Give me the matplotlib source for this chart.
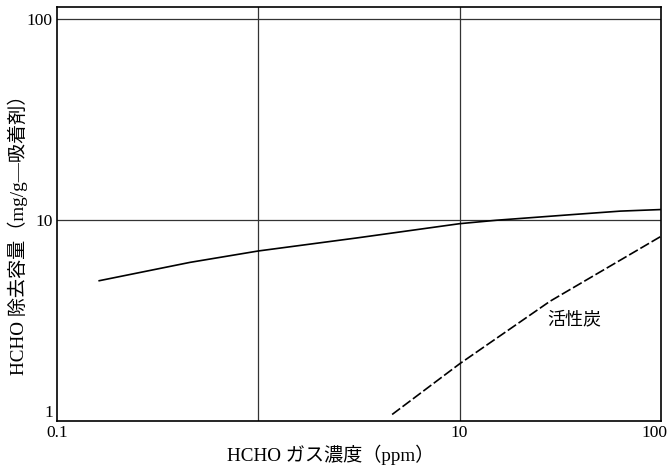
import matplotlib
matplotlib.use('Agg')
import matplotlib.pyplot as plt
import matplotlib.transforms as mtransforms

plt.rcParams['font.family'] = ['Liberation Serif', 'Noto Sans CJK JP']

# ---------------------------------------------------------------------------
# Data (log-log)
# ---------------------------------------------------------------------------
# upper solid curve (unlabelled adsorbent)
solidX = [0.162, 0.458, 1.0, 3.08, 10.0, 15.3, 35.6, 63.0, 100.0]
solidY = [5.0, 6.17, 7.03, 8.16, 9.61, 10.0, 10.65, 11.1, 11.3]

# activated carbon (dashed)
carbonX = [4.62, 10.0, 28.1, 100.0]
carbonY = [1.08, 1.93, 3.95, 8.31]
carbonLabel = '活性炭'

xTicks = [0.1, 10, 100]
xTickLabels = ['0.1', '10', '100']
yTicks = [1, 10, 100]
yTickLabels = ['1', '10', '100']
xGrid = [1, 10]
yGrid = [10, 100]

xLabel = 'HCHO ガス濃度（ppm）'
yLabel = 'HCHO 除去容量（mg/g—吸着剤）'

# ---------------------------------------------------------------------------
# Plot
# ---------------------------------------------------------------------------
fig = plt.figure(figsize=(6.71, 4.68), dpi=100)
ax = fig.add_axes([0.085, 0.1, 0.9, 0.885])
ax.set_xscale('log')
ax.set_yscale('log')
ax.set_xlim(0.1, 100)
ax.set_ylim(1, 115)

for gx in xGrid:
    ax.axvline(gx, color='#333333', lw=0.9, zorder=1)
for gy in yGrid:
    ax.axhline(gy, color='#333333', lw=0.9, zorder=1)

ax.plot(solidX, solidY, color='black', lw=1.2, zorder=3)
ax.plot(carbonX, carbonY, color='black', lw=1.2,
        linestyle=(0, (6, 1.8)), zorder=3)
ax.text(37, 3.2, carbonLabel, fontsize=13, ha='center', va='center')

ax.minorticks_off()
ax.set_xticks(xTicks)
ax.set_xticklabels(xTickLabels)
ax.set_yticks(yTicks)
ax.set_yticklabels(yTickLabels)
ax.tick_params(length=0, labelsize=12.5, pad=3)
ax.get_yticklabels()[0].set_verticalalignment('bottom')

# last x label sits flush with the right frame edge
lastLab = ax.get_xticklabels()[-1]
lastLab.set_horizontalalignment('right')
lastLab.set_transform(lastLab.get_transform() +
                      mtransforms.ScaledTranslation(0.07, 0, fig.dpi_scale_trans))

for sp in ax.spines.values():
    sp.set_linewidth(1.2)

# axis titles placed directly, as in the scanned figure
fig.text(331 / 671, 1 - 455 / 468, xLabel, fontsize=13.8,
         ha='center', va='center')
fig.text(18 / 671, 1 - 230 / 468, yLabel, fontsize=13.8,
         ha='center', va='center', rotation=90)

fig.savefig('out.png', dpi=100)
